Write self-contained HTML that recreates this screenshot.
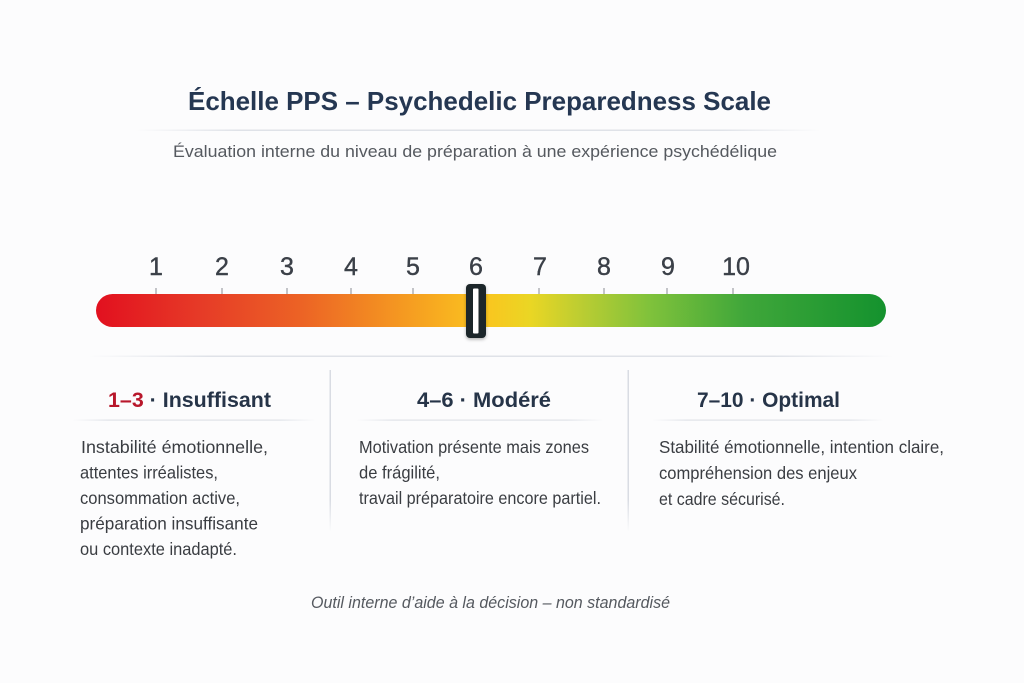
<!DOCTYPE html>
<html><head><meta charset="utf-8"><style>
html,body{margin:0;padding:0;background:#fcfcfd;}
svg{display:block;}
text{font-family:"Liberation Sans",sans-serif;}
</style></head><body>
<svg width="1024" height="683" viewBox="0 0 1024 683" xmlns="http://www.w3.org/2000/svg">
<defs>
<linearGradient id="bar" x1="96" y1="0" x2="886" y2="0" gradientUnits="userSpaceOnUse">
<stop offset="0" stop-color="#e2101f"/>
<stop offset="0.13" stop-color="#e63a27"/>
<stop offset="0.26" stop-color="#ec6325"/>
<stop offset="0.39" stop-color="#f59a21"/>
<stop offset="0.49" stop-color="#fbc41f"/>
<stop offset="0.55" stop-color="#ead624"/>
<stop offset="0.62" stop-color="#b7cc33"/>
<stop offset="0.70" stop-color="#80c23b"/>
<stop offset="0.82" stop-color="#40a73a"/>
<stop offset="1" stop-color="#14922e"/>
</linearGradient>
<linearGradient id="hl" x1="0" y1="0" x2="1" y2="0">
<stop offset="0" stop-color="#dfe2e8" stop-opacity="0"/>
<stop offset="0.15" stop-color="#dfe2e8"/>
<stop offset="0.85" stop-color="#dfe2e8"/>
<stop offset="1" stop-color="#dfe2e8" stop-opacity="0"/>
</linearGradient>
<linearGradient id="vl" x1="0" y1="0" x2="0" y2="1">
<stop offset="0" stop-color="#d9dce3"/>
<stop offset="0.8" stop-color="#d9dce3"/>
<stop offset="1" stop-color="#d9dce3" stop-opacity="0"/>
</linearGradient>
<filter id="sh" x="-50%" y="-20%" width="200%" height="140%">
<feDropShadow dx="0" dy="1.5" stdDeviation="1.5" flood-color="#000" flood-opacity="0.3"/>
</filter>
</defs>
<rect width="1024" height="683" fill="#fcfcfd"/>

<!-- Title -->
<text x="188" y="110" font-size="26" font-weight="bold" fill="#253752" textLength="583" lengthAdjust="spacingAndGlyphs">Échelle PPS – Psychedelic Preparedness Scale</text>
<rect x="135" y="129.5" width="686" height="1.5" fill="url(#hl)"/>
<text x="173" y="157" font-size="17" fill="#55595f" textLength="604" lengthAdjust="spacingAndGlyphs">Évaluation interne du niveau de préparation à une expérience psychédélique</text>

<!-- Numbers -->
<g font-size="25" fill="#3b4048" stroke="#3b4048" stroke-width="0.4" text-anchor="middle">
<text x="156" y="275">1</text>
<text x="222" y="275">2</text>
<text x="287" y="275">3</text>
<text x="351" y="275">4</text>
<text x="413" y="275">5</text>
<text x="476" y="275">6</text>
<text x="540" y="275">7</text>
<text x="604" y="275">8</text>
<text x="668" y="275">9</text>
<text x="736" y="275">10</text>
</g>
<g stroke="#8a8d92" stroke-width="1">
<line x1="156" y1="288" x2="156" y2="295"/>
<line x1="222" y1="288" x2="222" y2="295"/>
<line x1="287" y1="288" x2="287" y2="295"/>
<line x1="351" y1="288" x2="351" y2="295"/>
<line x1="413" y1="288" x2="413" y2="295"/>
<line x1="539" y1="288" x2="539" y2="295"/>
<line x1="604" y1="288" x2="604" y2="295"/>
<line x1="667" y1="288" x2="667" y2="295"/>
<line x1="733" y1="288" x2="733" y2="295"/>
</g>

<!-- Bar -->
<rect x="96" y="294" width="790" height="33" rx="16.5" fill="url(#bar)"/>
<!-- Handle -->
<rect x="466" y="284" width="20" height="54" rx="4" fill="#1d2629" filter="url(#sh)"/>
<rect x="473" y="288.5" width="5.5" height="45" rx="1" fill="#ffffff"/>

<!-- Separator -->
<rect x="88" y="355.5" width="806" height="1.5" fill="url(#hl)"/>

<!-- Vertical dividers -->
<rect x="329.5" y="370" width="1.5" height="162" fill="url(#vl)"/>
<rect x="627.5" y="370" width="1.5" height="162" fill="url(#vl)"/>

<!-- Headings -->
<text x="108" y="407" font-size="21" font-weight="bold" fill="#263448" textLength="163" lengthAdjust="spacingAndGlyphs"><tspan fill="#b8172b">1–3</tspan> · Insuffisant</text>
<text x="417" y="407" font-size="21" font-weight="bold" fill="#263448" textLength="134" lengthAdjust="spacingAndGlyphs">4–6 · Modéré</text>
<text x="697" y="407" font-size="21" font-weight="bold" fill="#263448" textLength="143" lengthAdjust="spacingAndGlyphs">7–10 · Optimal</text>

<rect x="72" y="419.5" width="244" height="1.2" fill="url(#hl)"/>
<rect x="356" y="419.5" width="248" height="1.2" fill="url(#hl)"/>
<rect x="652" y="419.5" width="232" height="1.2" fill="url(#hl)"/>

<!-- Body col1 -->
<g font-size="17.5" fill="#3a3d42">
<text x="81" y="453" textLength="187" lengthAdjust="spacingAndGlyphs">Instabilité émotionnelle,</text>
<text x="80" y="478.5" textLength="138" lengthAdjust="spacingAndGlyphs">attentes irréalistes,</text>
<text x="80" y="504" textLength="160" lengthAdjust="spacingAndGlyphs">consommation active,</text>
<text x="80" y="529.5" textLength="178" lengthAdjust="spacingAndGlyphs">préparation insuffisante</text>
<text x="80" y="555" textLength="157" lengthAdjust="spacingAndGlyphs">ou contexte inadapté.</text>
</g>
<!-- Body col2 -->
<g font-size="17.5" fill="#3a3d42">
<text x="359" y="453" textLength="230" lengthAdjust="spacingAndGlyphs">Motivation présente mais zones</text>
<text x="359" y="478.5" textLength="81" lengthAdjust="spacingAndGlyphs">de frágilité,</text>
<text x="359" y="504" textLength="242" lengthAdjust="spacingAndGlyphs">travail préparatoire encore partiel.</text>
</g>
<!-- Body col3 -->
<g font-size="17.5" fill="#3a3d42">
<text x="659" y="453" textLength="285" lengthAdjust="spacingAndGlyphs">Stabilité émotionnelle, intention claire,</text>
<text x="659" y="479" textLength="198" lengthAdjust="spacingAndGlyphs">compréhension des enjeux</text>
<text x="659" y="505" textLength="126" lengthAdjust="spacingAndGlyphs">et cadre sécurisé.</text>
</g>

<!-- Footer -->
<text x="311" y="608" font-size="16.5" font-style="italic" fill="#55595f" textLength="359" lengthAdjust="spacingAndGlyphs">Outil interne d’aide à la décision – non standardisé</text>
</svg>
</body></html>
